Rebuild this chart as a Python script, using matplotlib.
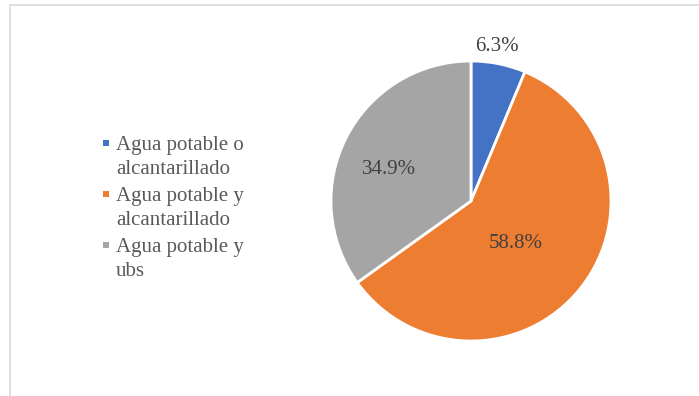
import textwrap
import numpy as np
import matplotlib
matplotlib.use("Agg")
import matplotlib.pyplot as plt
from matplotlib.patches import Rectangle

categorias = ["Agua potable o alcantarillado",
              "Agua potable y alcantarillado",
              "Agua potable y ubs"]
porcentajes = [6.3, 58.8, 34.9]
colores = ["#4472C4", "#ED7D31", "#A5A5A5"]

# label placement (radius as fraction of pie radius, angle nudge in degrees)
radio_etq = [1.12, 0.44, 0.63]
giro_etq = [2.0, -5.0, 6.0]

plt.rcParams["font.family"] = ["Liberation Serif", "DejaVu Serif"]

W, H = 699, 396
fig = plt.figure(figsize=(W / 100, H / 100), dpi=100)

# chart border (runs off the right and bottom edges)
fig.add_artist(Rectangle((9.5 / W, -0.1), 1.2, (H - 5.5) / H + 0.1,
                         transform=fig.transFigure, fill=False,
                         edgecolor="#D9D9D9", linewidth=1.2))

cx, cy, r = 471, 201, 140
ax = fig.add_axes([(cx - r) / W, (H - cy - r) / H, 2 * r / W, 2 * r / H])
wedges, _ = ax.pie(porcentajes, colors=colores, startangle=90, counterclock=False,
                   radius=1.0, wedgeprops=dict(edgecolor="white", linewidth=2.0))
ax.set_xlim(-1, 1)
ax.set_ylim(-1, 1)
ax.set_aspect("equal")
ax.axis("off")

for w, val, rr, dg in zip(wedges, porcentajes, radio_etq, giro_etq):
    ang = np.deg2rad((w.theta1 + w.theta2) / 2 + dg)
    ax.text(rr * np.cos(ang), rr * np.sin(ang), f"{val:.1f}%",
            ha="center", va="center", fontsize=15, color="#404040")

# legend drawn by hand so the square sits beside the first line
y0, paso = 143, 51
for i, (cat, col) in enumerate(zip(categorias, colores)):
    y = y0 + i * paso
    fig.add_artist(Rectangle(((103) / W, (H - y - 3) / H), 6 / W, 6 / H,
                             transform=fig.transFigure, facecolor=col,
                             edgecolor="none"))
    fig.text(116 / W, (H - y + 7) / H, textwrap.fill(cat, 15),
             ha="left", va="top", fontsize=15, color="#595959", linespacing=1.38)

fig.savefig("out.png", dpi=100)
